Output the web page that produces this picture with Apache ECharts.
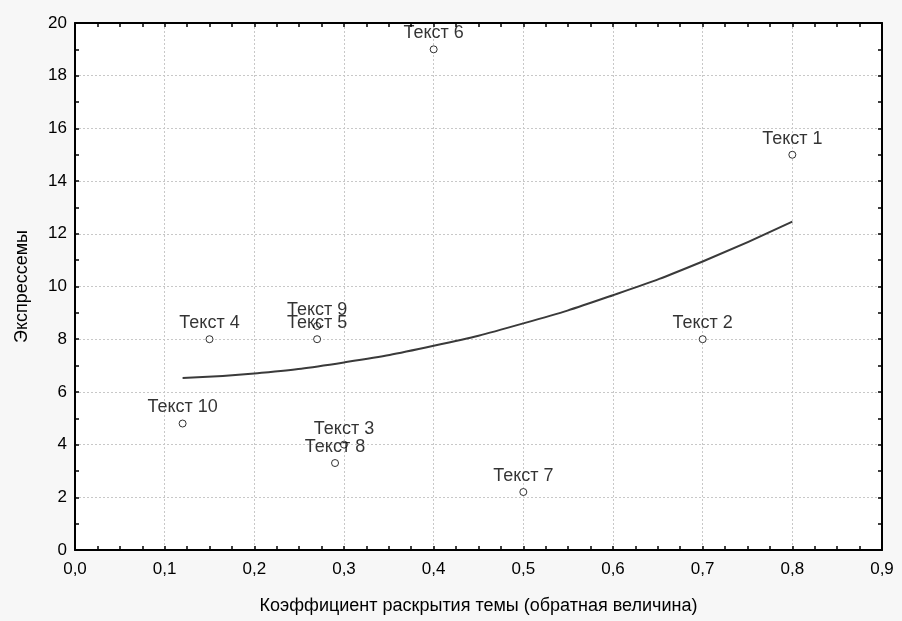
<!DOCTYPE html>
<html><head><meta charset="utf-8">
<script src="https://cdn.jsdelivr.net/npm/echarts@6/dist/echarts.min.js"></script>
<style>html,body{margin:0;padding:0;background:#f7f7f7}#c{width:902px;height:621px}</style>
</head><body><div id="c"></div>
<script>
const pointNames = ['Текст 1','Текст 2','Текст 3','Текст 4','Текст 5','Текст 6','Текст 7','Текст 8','Текст 9','Текст 10'];
const pointX = [0.80, 0.70, 0.30, 0.15, 0.27, 0.40, 0.50, 0.29, 0.27, 0.12];
const pointY = [15.0, 8.0, 4.0, 8.0, 8.0, 19.0, 2.2, 3.3, 8.5, 4.8];
const curveX = [0.12, 0.2, 0.3, 0.4, 0.5, 0.6, 0.7, 0.8];
const curveY = [6.53, 6.70, 7.12, 7.75, 8.6, 9.67, 10.95, 12.46];
const xTicks = ['0,0','0,1','0,2','0,3','0,4','0,5','0,6','0,7','0,8','0,9'];
const yTicks = ['0','2','4','6','8','10','12','14','16','18','20'];

const FONT = 'Liberation Sans, Arial, sans-serif';
const chart = echarts.init(document.getElementById('c'), null, {renderer:'canvas'});
const axisLine = {show:true, onZero:false, lineStyle:{color:'#000', width:2}};
const tick = {show:true, inside:true, length:4, lineStyle:{color:'#000', width:1.5}};
const minorTick = {show:true, length:4, lineStyle:{color:'#000', width:1.5}};
const split = {show:true, lineStyle:{color:'#c8c8c8', type:[2,2], width:1}};

chart.setOption({
  backgroundColor:'#f7f7f7',
  animation:false,
  grid:{left:75, right:20, top:23, bottom:71, show:true, backgroundColor:'#fff', borderWidth:0},
  xAxis:[{
    type:'value', min:0, max:0.9, interval:0.1,
    axisLine, axisTick:tick, minorTick:Object.assign({splitNumber:4}, minorTick),
    splitLine:split,
    axisLabel:{color:'#000', fontFamily:FONT, fontSize:17, margin:11,
      formatter:(v)=>xTicks[Math.round(v*10)]},
    name:'Коэффициент раскрытия темы (обратная величина)', nameLocation:'middle', nameGap:47,
    nameTextStyle:{color:'#000', fontFamily:FONT, fontSize:18}
  },{
    type:'value', position:'top', min:0, max:0.9, interval:0.1,
    axisLine, axisTick:tick, minorTick:Object.assign({splitNumber:4}, minorTick),
    splitLine:{show:false}, axisLabel:{show:false}
  }],
  yAxis:[{
    type:'value', min:0, max:20, interval:2,
    axisLine, axisTick:tick, minorTick:Object.assign({splitNumber:2}, minorTick),
    splitLine:split,
    axisLabel:{color:'#000', fontFamily:FONT, fontSize:17, margin:8,
      formatter:(v)=>yTicks[Math.round(v/2)]},
    name:'Экспрессемы', nameLocation:'middle', nameGap:44,
    nameTextStyle:{color:'#000', fontFamily:FONT, fontSize:18}
  },{
    type:'value', position:'right', min:0, max:20, interval:2,
    axisLine, axisTick:tick, minorTick:Object.assign({splitNumber:2}, minorTick),
    splitLine:{show:false}, axisLabel:{show:false}
  }],
  series:[{
    type:'line', smooth:true, showSymbol:false,
    data:curveX.map((x,i)=>[x, curveY[i]]),
    lineStyle:{color:'#3a3a3a', width:2}, z:2
  },{
    type:'scatter', symbol:'circle', symbolSize:7,
    itemStyle:{color:'#fff', borderColor:'#000', borderWidth:1},
    data:pointX.map((x,i)=>({name:pointNames[i], value:[x, pointY[i]]})),
    label:{show:true, position:'top', distance:3, formatter:'{b}',
      color:'#000', fontFamily:FONT, fontSize:18},
    labelLayout:{hideOverlap:false}, z:3
  }]
});
</script></body></html>
